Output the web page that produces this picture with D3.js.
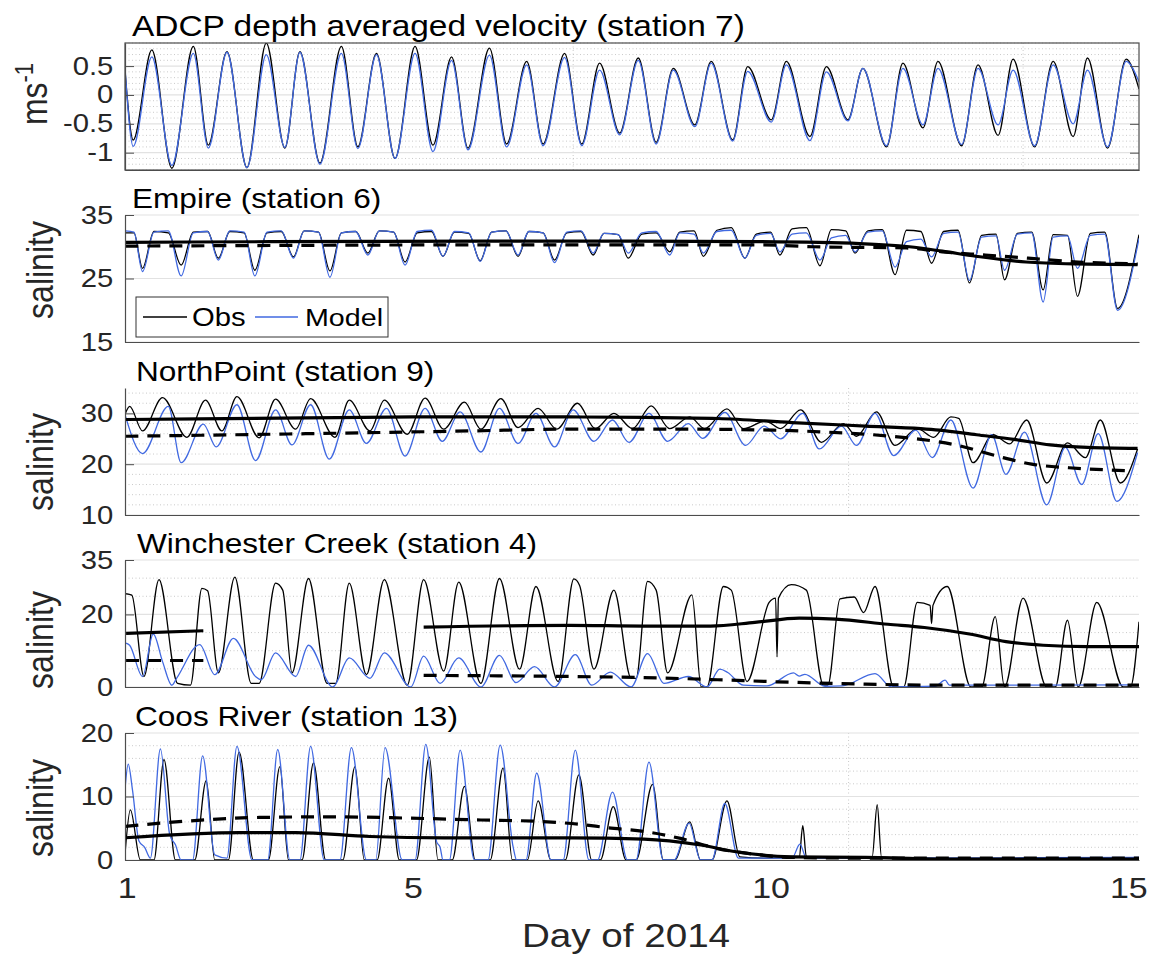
<!DOCTYPE html>
<html>
<head>
<meta charset="utf-8">
<script src="https://cdn.jsdelivr.net/npm/d3@7"></script>
<style>
  body { margin: 0; background: #fff; }
  text { font-family: "Liberation Sans", Arial, Helvetica, sans-serif; }
</style>
</head>
<body>
<div id="vis"></div>
<script>

// ---- data (day of 2014, value) ----

const TITLES = ["ADCP depth averaged velocity (station 7)", "Empire (station 6)",
                "NorthPoint (station 9)", "Winchester Creek (station 4)", "Coos River (station 13)"];
const X_TICKS = [1, 5, 10, 15];

// panel 1: velocity extrema (obs and model share times)
const velDays = [0.98, 1.09, 1.35, 1.63, 1.93, 2.14, 2.40, 2.68, 2.95, 3.21, 3.42, 3.70, 4.00, 4.23,
  4.49, 4.75, 5.03, 5.28, 5.54, 5.77, 6.07, 6.31, 6.59, 6.82, 7.12, 7.36, 7.61, 7.89, 8.15, 8.40,
  8.64, 8.94, 9.17, 9.47, 9.68, 10.01, 10.22, 10.55, 10.78, 11.08, 11.29, 11.62, 11.85, 12.13,
  12.34, 12.67, 12.90, 13.18, 13.39, 13.69, 13.95, 14.23, 14.43, 14.71, 14.97, 15.15];
const velObs = [0.35, -0.78, 0.78, -1.27, 0.84, -0.87, 0.75, -1.26, 0.90, -0.92, 0.75, -1.18, 0.84, -0.90,
  0.72, -1.10, 0.84, -0.87, 0.66, -0.92, 0.81, -0.85, 0.58, -0.85, 0.72, -0.85, 0.55, -0.66, 0.64, -0.82,
  0.46, -0.52, 0.58, -0.78, 0.49, -0.43, 0.58, -0.72, 0.49, -0.43, 0.46, -0.90, 0.55, -0.57,
  0.58, -0.88, 0.52, -0.70, 0.62, -0.90, 0.58, -0.72, 0.64, -0.92, 0.62, 0.10];
const velModel = [0.38, -0.89, 0.66, -1.22, 0.72, -0.92, 0.74, -1.26, 0.70, -0.91, 0.74, -1.20, 0.72, -0.93,
  0.70, -1.10, 0.72, -0.98, 0.60, -0.95, 0.69, -0.90, 0.52, -0.88, 0.65, -0.88, 0.43, -0.69, 0.60, -0.85,
  0.43, -0.55, 0.55, -0.80, 0.41, -0.47, 0.52, -0.79, 0.40, -0.45, 0.46, -0.88, 0.46, -0.52,
  0.46, -0.86, 0.46, -0.52, 0.43, -0.88, 0.52, -0.50, 0.43, -0.90, 0.58, 0.23];
const VEL_TICKS = [-1, -0.5, 0, 0.5];

// panel 2: Empire salinity (each line: trough, start and end of the following high plateau)
const empDays = [0.98, 1.10,
  1.22, 1.38, 1.58,   1.76, 1.93, 2.13,   2.28, 2.44, 2.64,   2.79, 2.96, 3.16,
  3.33, 3.48, 3.68,   3.84, 4.00, 4.20,   4.37, 4.53, 4.73,   4.89, 5.06, 5.26,
  5.42, 5.58, 5.78,   5.94, 6.10, 6.30,   6.47, 6.62, 6.82,   6.98, 7.15, 7.35,
  7.52, 7.67, 7.87,   8.01, 8.20, 8.40,   8.59, 8.73, 8.93,   9.06, 9.25, 9.45,
  9.64, 9.80, 10.00,  10.13, 10.30, 10.50, 10.69, 10.85, 11.05, 11.18, 11.36, 11.56,
  11.74, 11.90, 12.10, 12.25, 12.42, 12.62, 12.78, 12.95, 13.15, 13.27, 13.45, 13.65,
  13.81, 13.95, 14.15, 14.29, 14.47, 14.67,
  14.85, 15.15];
const empObs = [32.2, 32.2,
  26.6, 32.4, 32.2,   27.1, 32.3, 32.4,   28.2, 32.4, 32.2,   26.3, 32.2, 32.4,
  28.4, 32.5, 32.3,   26.2, 32.2, 32.4,   29.0, 32.5, 32.3,   27.6, 32.2, 32.4,
  28.5, 32.3, 32.1,   27.8, 32.3, 32.5,   28.5, 32.4, 32.2,   27.9, 32.2, 32.4,
  28.7, 32.1, 31.9,   28.2, 32.0, 32.2,   29.2, 32.3, 32.5,   28.5, 32.6, 33.0,
  28.2, 32.0, 32.3,   28.7, 32.8, 33.0,   27.0, 32.7, 32.5,   29.0, 32.5, 32.7,
  25.6, 32.6, 32.4,   27.4, 32.4, 32.6,   24.3, 31.8, 32.0,   24.8, 32.1, 32.3,
  23.2, 31.9, 31.8,   22.2, 32.1, 32.3,
  20.3, 31.9];
const empModel = [32.5, 32.3,
  26.1, 32.3, 32.5,   25.4, 32.2, 32.4,   27.9, 32.5, 32.3,   25.4, 32.3, 32.5,
  28.2, 32.5, 32.3,   25.2, 32.2, 32.4,   28.7, 32.5, 32.3,   27.1, 32.4, 32.6,
  28.5, 32.4, 32.2,   27.7, 32.3, 32.5,   28.7, 32.4, 32.2,   27.5, 32.3, 32.5,
  29.0, 32.1, 31.9,   29.0, 32.2, 32.4,   28.7, 32.2, 32.0,   29.0, 32.4, 32.6,
  28.2, 31.8, 32.1,   29.2, 32.0, 32.2,   27.9, 31.4, 31.8,   29.2, 32.3, 32.5,
  26.8, 30.8, 31.2,   28.4, 32.1, 32.3,   24.7, 31.5, 31.7,   26.3, 32.0, 32.2,
  21.3, 31.5, 31.7,   26.6, 31.8, 32.0,
  20.0, 31.3];
const empObsLP = [[0.98, 30.7], [3, 30.8], [6, 30.9], [8, 30.9], [9.85, 30.8], [11.25, 30.5], [11.94, 30.0],
  [12.4, 29.3], [12.87, 28.5], [13.57, 27.6], [14.27, 27.3], [15.13, 27.2]];
const empModelLP = [[0.98, 30.1], [3, 30.2], [6, 30.3], [9.85, 30.3], [10.6, 30.0], [11.9, 29.8], [12.4, 29.2],
  [13.0, 28.7], [13.6, 28.2], [14.3, 27.6], [15.13, 27.3]];
const EMP_TICKS = [15, 25, 35];

// panel 3: NorthPoint salinity
const npObs = [[0.98, 30.0], [1.04, 31.4], [1.22, 26.55], [1.50, 33.1], [1.84, 25.3], [2.10, 32.6], [2.33, 26.55],
  [2.54, 33.3], [2.85, 25.2], [3.08, 32.8], [3.36, 26.9], [3.57, 32.9], [3.91, 25.3], [4.11, 32.6], [4.40, 26.55],
  [4.60, 32.6], [4.92, 25.9], [5.17, 33.0], [5.43, 26.9], [5.72, 32.2], [5.95, 26.9], [6.23, 32.9], [6.47, 27.2],
  [6.75, 31.0], [7.01, 26.9], [7.30, 32.0], [7.55, 27.0], [7.81, 30.0], [8.07, 27.0], [8.33, 31.5], [8.59, 27.0],
  [8.87, 29.3], [9.08, 27.0], [9.39, 30.9], [9.62, 27.0], [9.93, 28.5], [10.14, 27.0], [10.42, 30.7], [10.71, 24.3],
  [11.02, 28.0], [11.20, 25.5], [11.48, 30.3], [11.74, 23.7], [12.05, 27.0], [12.28, 25.3], [12.52, 29.3],
  [12.63, 29.0], [12.83, 20.3], [13.11, 25.8], [13.34, 24.0], [13.58, 28.7], [13.86, 16.3], [14.15, 24.2],
  [14.40, 21.3], [14.61, 28.7], [14.89, 16.3], [15.13, 23.0]];
const npModel = [[0.98, 29.5], [1.22, 22.1], [1.58, 31.4], [1.76, 20.3], [2.07, 27.9], [2.25, 23.4], [2.54, 31.7],
  [2.80, 20.7], [3.08, 30.7], [3.31, 23.8], [3.57, 31.7], [3.83, 21.0], [4.11, 30.7], [4.35, 24.1], [4.63, 31.0],
  [4.89, 21.6], [5.17, 31.0], [5.41, 24.5], [5.66, 30.3], [5.95, 22.4], [6.21, 31.0], [6.47, 24.1], [6.72, 30.0],
  [6.98, 23.4], [7.24, 30.7], [7.53, 24.5], [7.79, 28.7], [8.02, 24.3], [8.30, 30.0], [8.56, 24.5], [8.85, 28.0],
  [9.05, 25.1], [9.36, 30.2], [9.65, 23.7], [9.91, 27.5], [10.14, 25.0], [10.45, 30.0], [10.68, 23.0],
  [10.99, 27.5], [11.20, 23.7], [11.46, 30.0], [11.72, 21.7], [12.03, 26.7], [12.26, 21.3], [12.52, 28.7],
  [12.83, 15.3], [13.09, 25.8], [13.29, 18.0], [13.55, 26.3], [13.86, 12.0], [14.12, 23.3], [14.35, 16.0],
  [14.58, 26.0], [14.84, 12.7], [15.13, 22.3]];
const npObsLP = [[0.98, 28.8], [3.5, 29.1], [5, 29.3], [7.19, 29.3], [8.23, 29.2], [9.26, 29.0], [10.3, 28.2],
  [11.33, 27.5], [12.1, 27.0], [12.36, 26.7], [12.88, 25.8], [13.4, 24.9], [13.91, 23.8], [14.43, 23.3], [15.13, 23.1]];
const npModelLP = [[0.98, 25.5], [3.5, 26.0], [5.8, 26.55], [7.19, 26.9], [8.74, 26.9], [10.04, 26.7],
  [10.81, 26.3], [11.69, 25.5], [12.10, 24.9], [12.62, 23.7], [13.14, 21.7], [13.65, 20.0], [14.17, 19.3],
  [14.69, 18.9], [15.05, 18.7]];
const NP_TICKS = [10, 20, 30];

// panel 4: Winchester Creek salinity
const winObs = [[0.99, 25.7], [1.07, 25.3], [1.24, 2.9], [1.45, 29.6], [1.71, 1.0], [1.89, 0.5], [2.05, 27.2],
  [2.13, 26.5], [2.28, 3.9], [2.51, 30.3], [2.74, 1.0], [2.85, 1.0], [3.08, 28.6], [3.18, 26.7], [3.31, 3.9],
  [3.54, 29.9], [3.80, 1.0], [3.92, 1.0], [4.11, 28.6], [4.35, 3.4], [4.60, 29.6], [4.92, 0.5], [5.15, 29.6],
  [5.43, 4.4], [5.64, 28.9], [5.95, 1.0], [6.21, 29.9], [6.49, 4.9], [6.72, 27.7], [7.03, 1.5], [7.25, 29.8],
  [7.33, 28.0], [7.53, 4.9], [7.81, 26.7], [8.05, 2.4], [8.12, 2.4], [8.28, 29.1], [8.40, 26.7], [8.56, 3.9],
  [8.90, 25.4], [9.03, 0], [9.11, 0], [9.34, 27.7], [9.45, 26.7], [9.67, 1.5], [9.98, 23.3], [10.07, 24.5],
  [10.09, 8.3], [10.11, 24.5], [10.29, 28.2], [10.50, 26.7], [10.74, 0.5], [10.80, 0.5], [10.97, 24.3],
  [11.17, 24.8], [11.30, 20.5], [11.46, 27.7], [11.72, 0], [11.86, 0], [12.05, 23.3], [12.23, 22.5],
  [12.25, 17.5], [12.27, 22.5], [12.47, 27.7], [12.80, 0], [12.95, 0], [13.14, 19.4], [13.27, 0], [13.53, 24.5],
  [13.86, 0], [13.98, 0], [14.15, 18.4], [14.30, 0], [14.56, 23.3], [14.93, 0], [15.03, 0], [15.15, 18]];
const winModel = [[0.99, 12.1], [1.04, 11.5], [1.22, 2.9], [1.37, 14.6], [1.50, 7], [1.63, 0.5], [1.70, 2.5],
  [2.02, 11.7], [2.23, 3.4], [2.49, 13.4], [2.80, 2.9], [2.88, 2.0], [3.08, 9.4], [3.36, 2.9], [3.54, 11.5],
  [3.88, 0], [4.11, 8.0], [4.40, 2.4], [4.60, 9.4], [4.97, 0], [5.15, 8.5], [5.38, 1.0], [5.64, 8.0], [5.95, 0],
  [6.21, 8.7], [6.44, 1.2], [6.70, 5.6], [6.98, 0], [7.27, 8.9], [7.50, 0.5], [7.76, 4.1], [8.05, 0], [8.28, 9.2],
  [8.51, 1.0], [8.85, 2.9], [9.11, 0], [9.29, 4.9], [9.40, 4.0], [9.62, 0.5], [9.95, 0.3], [10.32, 3.9],
  [10.40, 3.0], [10.48, 3.5], [10.76, 0.2], [11.0, 0.3], [11.46, 3.7], [11.69, 0], [12.3, 0.2], [12.44, 1.9],
  [12.5, 0.5], [13.5, 0.5], [15.15, 0.6]];
const winObsLP = [
  [[0.99, 14.8], [2.07, 15.5]],
  [[5.15, 16.5], [7.19, 17.0], [8.23, 16.8], [9.16, 16.8], [9.78, 17.8], [10.40, 19.0], [10.91, 18.7],
   [11.64, 17.3], [12.15, 16.4], [12.78, 14.6], [13.29, 12.5], [13.81, 11.5], [14.43, 11.1], [15.15, 11.1]]];
const winModelLP = [
  [[0.99, 7.3], [2.07, 7.3]],
  [[5.15, 3.2], [7.19, 2.9], [8.23, 2.6], [9.26, 2.0], [10.29, 1.3], [11.33, 0.8], [12.36, 0.5], [15.15, 0.5]]];
const WIN_TICKS = [0, 20, 35];

// panel 5: Coos River salinity
const coosObs = [[0.98, 1.6], [1.05, 7.9], [1.19, 0], [1.38, 0], [1.52, 15.8], [1.68, 0], [1.95, 0], [2.11, 12.5],
  [2.23, 0], [2.42, 0], [2.57, 17.0], [2.77, 0], [2.98, 0], [3.14, 14.7], [3.26, 0], [3.45, 0], [3.61, 15.3],
  [3.78, 0], [4.02, 0], [4.19, 14.7], [4.32, 0], [4.50, 0], [4.66, 12.9], [4.81, 0], [5.05, 0], [5.23, 16.2],
  [5.35, 0], [5.55, 0], [5.72, 11.6], [5.87, 0], [6.08, 0], [6.26, 14.5], [6.39, 0], [6.60, 0], [6.75, 9.3],
  [6.93, 0], [7.13, 0], [7.32, 13.4], [7.50, 0], [7.62, 0], [7.80, 8.4], [7.98, 0], [8.12, 0], [8.35, 11.9],
  [8.50, 0], [8.66, 0], [8.87, 6.0], [9.02, 0], [9.18, 0], [9.39, 9.3], [9.57, 0.5], [9.93, 0.3], [10.40, 0.4],
  [10.45, 5.4], [10.50, 0.5], [11.42, 0.5], [11.49, 8.7], [11.55, 0.5], [12.5, 0.2], [15.15, 0.2]];
const coosModel = [[0.98, 11.8], [1.02, 15.1], [1.08, 11], [1.17, 3], [1.25, 2], [1.33, 0.3], [1.47, 17.5],
  [1.60, 4], [1.68, 2.4], [1.76, 0], [1.92, 0], [2.06, 16.4], [2.23, 0.8], [2.40, 0.3], [2.54, 17.9], [2.75, 0],
  [2.97, 0], [3.11, 17.4], [3.28, 0], [3.42, 0], [3.57, 17.9], [3.76, 0], [3.98, 0], [4.14, 17.7], [4.35, 0],
  [4.48, 0], [4.61, 17.7], [4.85, 0], [5.03, 0], [5.18, 18.2], [5.33, 2.9], [5.38, 2.0], [5.42, 0], [5.51, 0],
  [5.66, 17.3], [5.86, 0], [6.05, 0], [6.22, 18.1], [6.40, 2.1], [6.45, 0], [6.58, 0], [6.73, 13.7], [6.93, 0],
  [7.10, 0], [7.27, 17.3], [7.46, 0], [7.58, 0], [7.79, 10.7], [8.00, 0], [8.12, 0], [8.30, 15.4], [8.50, 0],
  [8.65, 0], [8.86, 5.8], [9.02, 0], [9.18, 0], [9.36, 8.9], [9.55, 0.3], [10.30, 0.3], [10.41, 2.5],
  [10.50, 0.3], [15.15, 0.4]];
const coosObsLP = [[0.98, 3.5], [2.59, 4.3], [3.37, 4.3], [4.40, 3.7], [5.44, 3.5], [7.19, 3.5], [8.23, 3.3],
  [9.00, 2.4], [9.52, 1.3], [10.29, 0.5], [11.33, 0.4], [12.36, 0.15], [15.15, 0.15]];
const coosModelLP = [[0.98, 5.3], [1.81, 6.1], [2.85, 6.7], [3.88, 6.8], [4.92, 6.6], [5.95, 6.3], [6.72, 6.1],
  [7.35, 5.6], [7.71, 5.1], [8.23, 4.5], [8.74, 3.4], [9.26, 1.8], [9.78, 0.9], [10.29, 0.4], [11.33, 0.3],
  [15.15, 0.3]];
const COOS_TICKS = [0, 10, 20];

// ---- layout ----
const WIDTH = 1149, HEIGHT = 957;
const SX = 1.17;                 // the figure's text is wider than plain Helvetica
const PLOT_L = 125, PLOT_R = 1139, PANEL_H = 127;
const OBS_COL = "#000", MOD_COL = "#4169e1", AXIS_COL = "#4d4d4d";

const X_SCALE = d3.scaleLinear().domain([0.975, 15.15]).range([PLOT_L, PLOT_R]);

const zip = (days, vals) => days.map((d, i) => [d, vals[i]]);
const minorSteps = (lo, hi, step, majors) =>
  d3.range(Math.round(lo / step), Math.round(hi / step) + 1).map(i => +(i * step).toFixed(3))
    .filter(v => !majors.includes(v));

const PANELS = [
  {title: TITLES[0], titleX: 132, titleSize: 28.6, top: 43, domain: [-1.3, 0.9], ticks: VEL_TICKS,
   minor: minorSteps(-1.3, 0.9, 0.1, VEL_TICKS), box: true, vgrid: [7.24, 13.53],
   obs: zip(velDays, velObs), model: zip(velDays, velModel),
   obsLP: [], modelLP: [], label: "ms", sup: "-1", labY: 94},
  {title: TITLES[1], titleX: 132, titleSize: 27, top: 215, domain: [15, 35], ticks: EMP_TICKS, minor: [], vgrid: [],
   obs: zip(empDays, empObs), model: zip(empDays, empModel), obsLP: [empObsLP], modelLP: [empModelLP],
   label: "salinity", labY: 270, legend: true},
  {title: TITLES[2], titleX: 136, titleSize: 27, top: 388, domain: [10, 35], ticks: NP_TICKS,
   minor: minorSteps(12, 34, 2, NP_TICKS), vgrid: [11.09], obs: npObs, model: npModel,
   obsLP: [npObsLP], modelLP: [npModelLP], label: "salinity", labY: 462},
  {title: TITLES[3], titleX: 137, titleSize: 27, top: 560, domain: [0, 35], ticks: WIN_TICKS,
   minor: minorSteps(5, 30, 5, WIN_TICKS), vgrid: [], obs: winObs, model: winModel,
   obsLP: winObsLP, modelLP: winModelLP, label: "salinity", labY: 640},
  {title: TITLES[4], titleX: 135, titleSize: 27, top: 733, domain: [0, 20], ticks: COOS_TICKS,
   minor: minorSteps(2, 18, 2, COOS_TICKS), vgrid: [11.09], obs: coosObs, model: coosModel,
   obsLP: [coosObsLP], modelLP: [coosModelLP], label: "salinity", labY: 808, xlabels: true}
];

const svg = d3.select("#vis").append("svg")
  .attr("width", WIDTH).attr("height", HEIGHT);

function stretched(sel, x, y, rotate) {
  return sel.attr("transform", `translate(${x},${y}) scale(${SX},1)` + (rotate ? " rotate(-90)" : ""));
}

function main() {
  PANELS.forEach((p, i) => {
    const Y_SCALE = d3.scaleLinear().domain(p.domain).range([p.top + PANEL_H, p.top]);
    const g = svg.append("g");

    // grid
    g.selectAll(".minor").data(p.minor).enter().append("line")
      .attr("x1", PLOT_L).attr("x2", PLOT_R)
      .attr("y1", d => Y_SCALE(d)).attr("y2", d => Y_SCALE(d))
      .attr("stroke", "#bdbdbd").attr("stroke-width", 0.8).attr("stroke-dasharray", "1,2.5");
    g.selectAll(".vgrid").data(p.vgrid).enter().append("line")
      .attr("x1", d => X_SCALE(d)).attr("x2", d => X_SCALE(d))
      .attr("y1", p.top).attr("y2", p.top + PANEL_H)
      .attr("stroke", "#bdbdbd").attr("stroke-width", 0.8).attr("stroke-dasharray", "1,2.5");
    g.selectAll(".major").data(p.ticks).enter().append("line")
      .attr("x1", PLOT_L).attr("x2", PLOT_R)
      .attr("y1", d => Y_SCALE(d)).attr("y2", d => Y_SCALE(d))
      .attr("stroke", "#e2e2e2").attr("stroke-width", 1.2);

    // series
    const clipId = "clip" + i;
    svg.append("clipPath").attr("id", clipId).append("rect")
      .attr("x", PLOT_L).attr("y", p.top).attr("width", PLOT_R - PLOT_L).attr("height", PANEL_H);
    const lines = g.append("g").attr("clip-path", `url(#${clipId})`);
    const line = d3.line().x(d => X_SCALE(d[0])).y(d => Y_SCALE(d[1])).curve(d3.curveMonotoneX);

    lines.append("path").attr("d", line(p.obs))
      .attr("fill", "none").attr("stroke", OBS_COL).attr("stroke-width", 1.3);
    lines.append("path").attr("d", line(p.model))
      .attr("fill", "none").attr("stroke", MOD_COL).attr("stroke-width", 1.3);
    p.obsLP.forEach(seg => lines.append("path").attr("d", line(seg))
      .attr("fill", "none").attr("stroke", "#000").attr("stroke-width", 3.2));
    p.modelLP.forEach(seg => lines.append("path").attr("d", line(seg))
      .attr("fill", "none").attr("stroke", "#000").attr("stroke-width", 3.2)
      .attr("stroke-dasharray", "13,9"));

    // axes
    const yAxis = g.append("g").attr("transform", `translate(${PLOT_L},0)`)
      .call(d3.axisLeft(Y_SCALE).tickValues(p.ticks).tickSize(-9).tickSizeOuter(0)
        .tickPadding(10).tickFormat(d => String(d)));
    yAxis.select(".domain").attr("stroke", AXIS_COL).attr("stroke-width", 1.2);
    yAxis.selectAll(".tick line").attr("stroke", AXIS_COL);
    yAxis.selectAll("text").attr("font-size", 25).attr("fill", "#262626")
      .attr("font-family", "Liberation Sans, Arial, sans-serif")
      .attr("transform", `scale(${SX},1)`);

    const xAxis = g.append("g").attr("transform", `translate(0,${p.top + PANEL_H})`)
      .call(d3.axisBottom(X_SCALE).tickValues(p.xlabels ? X_TICKS : []).tickSize(0).tickPadding(17)
        .tickFormat(d => String(d)));
    xAxis.select(".domain").attr("stroke", AXIS_COL).attr("stroke-width", 1.2);
    xAxis.selectAll("text").attr("font-size", 29).attr("fill", "#262626")
      .attr("font-family", "Liberation Sans, Arial, sans-serif")
      .attr("transform", `scale(${SX},1)`);

    if (p.box) {
      g.append("rect").attr("x", PLOT_L).attr("y", p.top)
        .attr("width", PLOT_R - PLOT_L).attr("height", PANEL_H)
        .attr("fill", "none").attr("stroke", AXIS_COL).attr("stroke-width", 1.2);
      const rAxis = g.append("g").attr("transform", `translate(${PLOT_R},0)`)
        .call(d3.axisRight(Y_SCALE).tickValues(p.ticks).tickSize(-9).tickSizeOuter(0).tickFormat(""));
      rAxis.select(".domain").remove();
      rAxis.selectAll(".tick line").attr("stroke", AXIS_COL);
    }

    // title
    stretched(g.append("text"), p.titleX, p.top - 7)
      .attr("font-size", p.titleSize).attr("fill", "#000").text(p.title);

    // y label
    const yl = stretched(g.append("text"), p.sup ? 47 : 53, p.labY, true)
      .attr("text-anchor", "middle").attr("font-size", 32).attr("fill", "#262626");
    yl.append("tspan").text(p.label);
    if (p.sup) yl.append("tspan").attr("baseline-shift", "super").attr("font-size", 22).text(p.sup);

    // legend
    if (p.legend) {
      const lg = g.append("g");
      lg.append("rect").attr("x", 136).attr("y", 297).attr("width", 252).attr("height", 40)
        .attr("fill", "#fff").attr("stroke", "#333").attr("stroke-width", 1);
      lg.append("line").attr("x1", 143).attr("x2", 187).attr("y1", 317).attr("y2", 317)
        .attr("stroke", OBS_COL).attr("stroke-width", 1.3);
      stretched(lg.append("text"), 192, 326).attr("font-size", 25).text("Obs");
      lg.append("line").attr("x1", 255).attr("x2", 298).attr("y1", 317).attr("y2", 317)
        .attr("stroke", MOD_COL).attr("stroke-width", 1.3);
      stretched(lg.append("text"), 305, 326).attr("font-size", 24.5).text("Model");
    }
  });

  stretched(svg.append("text"), 626, 947)
    .attr("text-anchor", "middle").attr("font-size", 33).attr("fill", "#262626").text("Day of 2014");
}

main();
</script>
</body>
</html>
